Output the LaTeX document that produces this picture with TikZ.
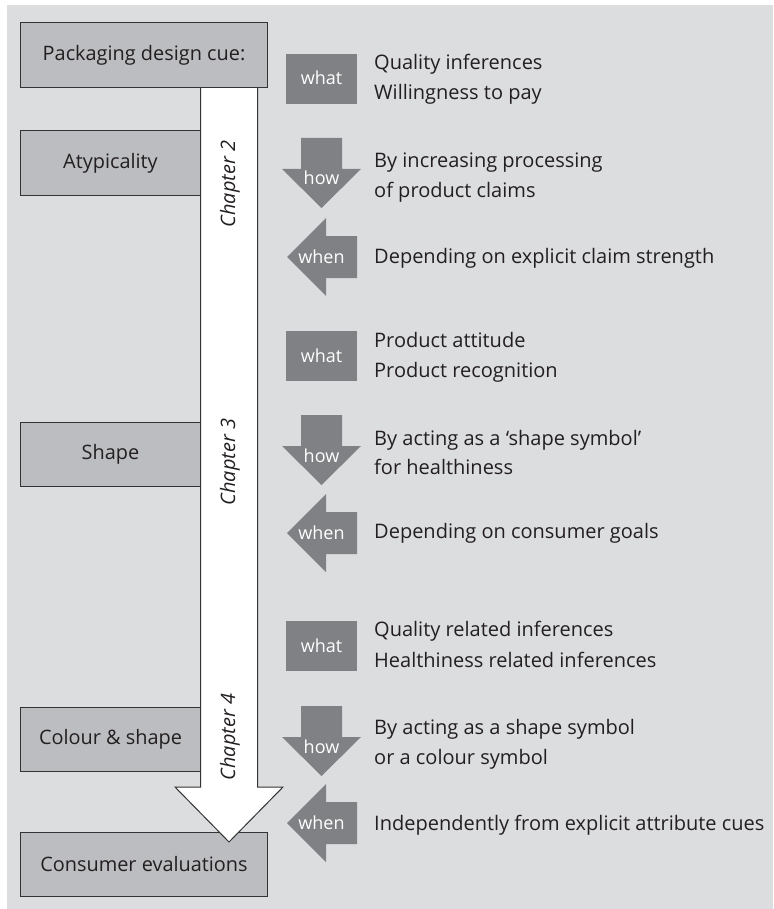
\documentclass[tikz,border=0pt]{standalone}
\usepackage{fontspec}
\setmainfont{Open Sans}
\definecolor{bgc}{HTML}{DCDDDF}
\definecolor{boxc}{HTML}{BCBDC0}
\definecolor{iconc}{HTML}{808184}
\definecolor{linec}{HTML}{333333}
\definecolor{txtc}{HTML}{231F20}
\begin{document}
\begin{tikzpicture}[x=1pt,y=-1pt,
  cue/.style={draw=linec, fill=boxc, line width=1pt, inner sep=0pt, anchor=north west,
    text=txtc, font=\fontsize{19.9}{24}\selectfont},
  chap/.style={rotate=90, text=txtc, font=\fontsize{19.9}{24}\selectfont\itshape},
  iconbox/.style={fill=iconc, inner sep=0pt, minimum width=71pt, minimum height=50pt},
  iconshape/.style={fill=iconc},
  iconlabel/.style={anchor=base, text=white, inner sep=0pt, font=\fontsize{18}{21}\selectfont},
  desc/.style={anchor=base west, inner sep=0pt, text=txtc, font=\fontsize{20}{24}\selectfont},
  shaft/.style={draw=linec, fill=white, line width=1pt, line join=miter}
]
\useasboundingbox (0,0) rectangle (773,909);
\fill[bgc] (7,5) rectangle (773,909);

% left boxes
\node[cue, minimum width=180pt, minimum height=65pt] (atyp) at (20,130) {Atypicality};
\node[cue, minimum width=180pt, minimum height=64pt] (shape) at (20,422) {Shape};
\node[cue, minimum width=180pt, minimum height=64pt] (colour) at (20,707) {Colour \& shape};
\node[cue, minimum width=247pt, minimum height=64pt] (cons) at (20,832) {Consumer evaluations};

% big chapter arrow
\coordinate (sTL) at (200.5,87);
\coordinate (sTR) at (257.5,87);
\coordinate (sBL) at (200.5,787);
\coordinate (sBR) at (257.5,787);
\coordinate (hL) at (175,787);
\coordinate (hR) at (283,787);
\coordinate (tip) at (229,842);
\fill[white] (sTL) -- (sBL) -- (hL) -- (tip) -- (hR) -- (sBR) -- (sTR) -- cycle;
\draw[shaft] (sTL) -- (sBL) -- (hL) -- (tip) -- (hR) -- (sBR) -- (sTR);

\node[cue, minimum width=247pt, minimum height=65pt] (pkg) at (20,22) {Packaging design cue:};

\node[chap] (ch2) at (230,184) {Chapter 2};
\node[chap] (ch3) at (230,462) {Chapter 3};
\node[chap] (ch4) at (230,737) {Chapter 4};

% icons
\foreach \s/\wc/\ht/\nc in {1/79/138/257, 2/356/415/533, 3/646/706/823}{
  \node[iconbox] (what\s) at (321.5,\wc) {};
  \node[iconlabel] (whatl\s) at (321.5,\wc+6) {what};
  \fill[iconshape] (301,\ht) -- (342,\ht) -- (342,\ht+31) -- (361,\ht+31) -- (321.5,\ht+70)
     -- (282,\ht+31) -- (301,\ht+31) -- cycle;
  \node[iconlabel] (how\s) at (321.5,\ht+47) {how};
  \fill[iconshape] (287,\nc) -- (326,\nc-39) -- (326,\nc-21) -- (357,\nc-21) -- (357,\nc+21)
     -- (326,\nc+21) -- (326,\nc+39) -- cycle;
  \node[iconlabel] (when\s) at (321.5,\nc+6) {when};
}

% descriptions
\node[desc] (d1a) at (374,70) {Quality inferences};
\node[desc] (d1b) at (374,100) {Willingness to pay};
\node[desc] (d1c) at (374,168) {By increasing processing};
\node[desc] (d1d) at (374,198) {of product claims};
\node[desc] (d1e) at (374,263) {Depending on explicit claim strength};

\node[desc] (d2a) at (374,347) {Product attitude};
\node[desc] (d2b) at (374,377) {Product recognition};
\node[desc] (d2c) at (374,445) {By acting as a ‘shape symbol’};
\node[desc] (d2d) at (374,474) {for healthiness};
\node[desc] (d2e) at (374,538) {Depending on consumer goals};

\node[desc] (d3a) at (374,636) {Quality related inferences};
\node[desc] (d3b) at (374,667) {Healthiness related inferences};
\node[desc] (d3c) at (374,734) {By acting as a shape symbol};
\node[desc] (d3d) at (374,764) {or a colour symbol};
\node[desc] (d3e) at (374,830) {Independently from explicit attribute cues};
\end{tikzpicture}
\end{document}
